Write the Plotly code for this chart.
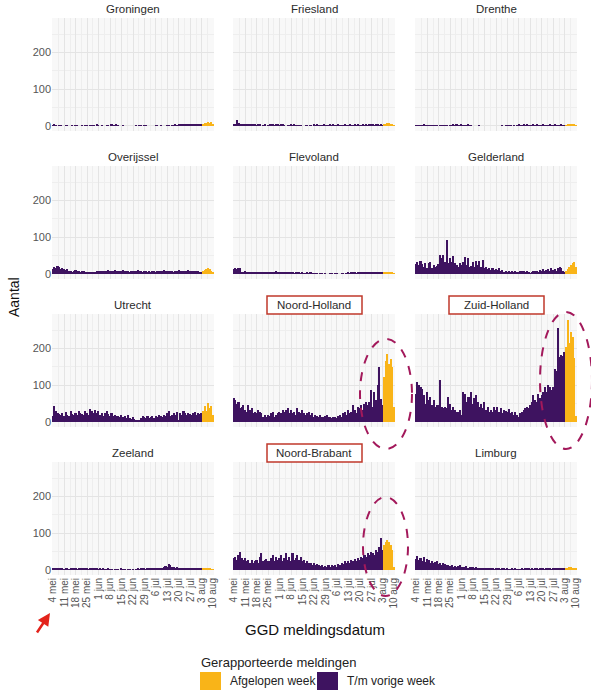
import pandas as pd
import plotly.graph_objects as go

# ---------------- data ----------------
dates = pd.date_range("2020-05-04", "2020-08-10", freq="D")
last_week_start = pd.Timestamp("2020-08-04")

provinces = ["Groningen", "Friesland", "Drenthe",
             "Overijssel", "Flevoland", "Gelderland",
             "Utrecht", "Noord-Holland", "Zuid-Holland",
             "Zeeland", "Noord-Brabant", "Limburg"]

groningen = [2,3,1,0,2,1,0,0,1,2, 0,0,1,0,2,1,0,0,1,0, 2,1,0,1,2,1,0,3,2,0,
             1,0,0,1,2,0,3,2,1,3, 2,0,0,1,0,0,0,0,0,0, 0,1,0,2,1,0,2,1,0,0,
             0,0,0,1,2,0,1,0,0,0, 1,2,0,1,2,3,2,4,3,4, 3,4,5,4,3,4,5,6,4,5,
             5,4, 6,8,9,10,9,11,5]
friesland = [5,6,15,7,6,5,5,4,4,3, 4,3,3,4,2,3,3,0,2,3, 0,2,4,3,3,2,3,4,2,3,
             3,2,0,1,2,3,2,3,2,2, 1,2,0,0,2,1,0,1,0,3, 2,3,2,1,2,3,2,2,1,3,
             2,3,2,2,3,2,1,2,3,2, 1,3,2,2,3,2,3,2,2,3, 2,3,2,3,4,3,2,3,3,2,
             3,2, 3,5,8,7,5,4,2]
drenthe = [2,1,2,2,1,3,2,1,2,1, 2,1,2,1,0,2,1,2,1,1, 0,1,2,3,2,3,1,2,3,2,
           1,2,3,2,1,0,0,0,0,1, 0,0,0,0,0,0,0,0,0,0, 0,0,0,1,0,2,1,2,1,0,
           1,0,2,3,2,1,3,2,3,2, 1,2,3,2,3,2,1,2,3,2, 1,2,3,2,1,3,2,1,2,3,
           2,1, 2,3,4,3,4,3,2]
overijssel = [14,20,15,22,18,12,15,13,10,12, 8,9,6,8,10,7,8,6,9,7, 5,4,6,3,5,4,6,8,7,9,
              8,7,9,8,10,9,8,7,10,8, 9,7,8,10,7,9,8,6,8,7, 9,8,10,7,8,6,9,7,6,8,
              5,7,9,6,8,7,9,8,10,9, 8,7,9,8,6,9,8,10,9,8, 7,9,8,10,9,7,8,9,7,8,
              6,5, 8,11,14,15,12,9,6]
flevoland = [13,15,14,16,15,6,5,7,5,6, 4,5,6,4,5,3,5,4,6,5, 4,5,3,4,6,5,7,4,5,3,
             4,5,6,4,3,5,4,2,3,4, 3,2,3,1,2,3,2,3,1,2, 1,2,0,1,2,0,1,0,0,2,
             1,0,2,1,0,0,1,2,0,2, 3,2,3,4,3,2,4,3,3,4, 3,5,4,3,4,5,4,6,5,4,
             5,4, 4,5,4,5,4,3,2]
gelderland = [27,31,24,36,27,20,29,15,29,31, 15,24,20,22,27,51,42,51,33,92,
              29,42,33,49,29,24,20,29,24,31, 45,24,42,20,22,33,20,36,24,36,
              20,38,15,18,13,15,11,15,11,13, 11,15,9,11,6,9,6,8,5,8,
              5,7,4,6,7,9,7,5,7,5, 2,6,9,7,9,6,11,8,13,9,
              10,12,8,15,11,13,9,15,20,15, 9,6,
              8,14,20,24,30,33,18]
utrecht = [15,43,30,25,22,20,25,15,26,20, 15,29,22,20,25,20,29,25,22,20,
           29,25,20,34,29,25,32,25,29,20, 25,17,23,29,22,17,23,15,20,15,
           17,14,20,14,15,11,20,11,8,14, 8,6,5,6,11,15,14,11,15,11,
           14,17,11,15,14,20,15,14,20,15, 25,29,15,20,25,20,26,3,25,20,
           29,25,20,25,22,18,24,28,20,24, 22,25,
           29,43,29,52,38,43,20]
noord_holland = [64,59,50,55,37,41,46,32,28,46, 32,37,23,28,23,32,28,23,14,19,
                 14,19,16,23,28,14,19,23,28,23, 32,28,32,37,23,32,23,28,19,37,
                 28,23,32,23,19,23,28,19,23,14, 19,16,14,19,14,13,16,19,14,13,
                 10,14,13,10,16,19,14,23,28,19, 32,23,28,46,32,23,41,37,46,32,
                 50,55,46,55,86,41,82,60,100,150,62,45,
                 122,167,185,158,172,150,41]
zuid_holland = [77,109,100,95,90,73,50,82,59,68, 46,59,41,46,46,113,41,37,41,37,
                68,50,32,41,32,28,28,32,19,82, 77,55,68,68,82,50,64,73,55,41,
                50,37,55,32,41,28,32,28,41,32, 41,28,37,23,32,30,28,35,23,28,19,28,
                19,14,23,28,32,37,41,37,46,55, 73,59,55,77,64,73,82,95,82,100,
                95,86,95,145,140,257,176,181,180,190,
                205,278,215,245,230,175,15]
zeeland = [5,6,4,3,5,4,3,2,4,3, 2,3,4,5,3,2,4,3,5,4, 3,4,2,3,4,5,3,4,2,3,
           2,3,1,2,3,2,1,0,2,1, 2,0,3,2,1,0,2,1,0,1, 0,2,3,2,3,4,3,2,3,4,
           3,5,4,6,5,4,6,5,8,10, 7,16,12,9,8,6,7,5,6,5, 4,5,6,5,4,3,5,4,6,5,
           4,3, 3,4,3,4,3,2,1]
noord_brabant = [32,36,27,41,50,32,27,32,23,27, 20,27,18,23,27,18,36,45,23,27,
                 30,25,23,32,41,23,36,27,32,41, 23,32,45,27,36,23,45,27,32,41,
                 27,36,23,27,18,23,18,20,14,18, 14,16,14,11,14,9,11,7,14,9,
                 14,11,14,9,16,14,18,15,23,18, 23,18,27,23,29,23,32,27,36,32,
                 41,36,45,41,50,45,41,54,50,63,86,54,
                 68,77,81,77,68,54,9]
limburg = [30,38,28,33,25,35,22,30,26,20, 24,18,22,25,16,20,14,18,15,12,
           14,10,12,9,11,8,10,12,7,9, 8,10,6,8,7,9,5,7,6,5,
           6,4,5,3,4,5,3,4,2,3, 4,3,2,4,3,2,3,2,1,3,
           2,3,2,1,2,3,2,3,4,3, 2,3,2,4,3,2,3,4,3,2,
           3,4,3,2,3,4,5,3,4,3, 4,3,
           4,6,7,8,6,5,3]

series = [groningen, friesland, drenthe, overijssel, flevoland, gelderland,
          utrecht, noord_holland, zuid_holland, zeeland, noord_brabant, limburg]

tick_dates = ["2020-05-04", "2020-05-11", "2020-05-18", "2020-05-25", "2020-06-01",
              "2020-06-08", "2020-06-15", "2020-06-22", "2020-06-29", "2020-07-06",
              "2020-07-13", "2020-07-20", "2020-07-27", "2020-08-03", "2020-08-10"]
tick_labels = ["4 mei", "11 mei", "18 mei", "25 mei", "1 jun", "8 jun", "15 jun",
               "22 jun", "29 jun", "6 jul", "13 jul", "20 jul", "27 jul", "3 aug", "10 aug"]
y_ticks = [0, 100, 200]

legend_title = "Gerapporteerde meldingen"
label_last = "Afgelopen week"
label_prev = "T/m vorige week"
highlighted = ["Noord-Holland", "Zuid-Holland", "Noord-Brabant"]

# ---------------- style ----------------
W, H = 591, 693
PURPLE = "#3E1360"
ORANGE = "#F9B418"
FONT = "Liberation Sans, Arial, sans-serif"
col_px = [(52, 214), (233, 395), (415, 577)]
row_px = [(18, 131), (166, 279), (314, 427), (462, 575)]

def px_x(p):
    return p / W

def px_y(p):
    return 1 - p / H

fig = go.Figure()
prev_mask = dates < last_week_start
last_mask = ~prev_mask
DAY_MS = 86400000

layout_axes = {}
annotations = []
shapes = []

for i, (name, vals) in enumerate(zip(provinces, series)):
    r, c = divmod(i, 3)
    k = i + 1
    xa = "x" if k == 1 else f"x{k}"
    ya = "y" if k == 1 else f"y{k}"
    v = pd.Series(vals, index=dates)
    fig.add_trace(go.Bar(x=dates[prev_mask], y=v[prev_mask].values, xaxis=xa, yaxis=ya,
                         marker=dict(color=PURPLE, line=dict(width=0)), width=DAY_MS,
                         name=label_prev, showlegend=False))
    fig.add_trace(go.Bar(x=dates[last_mask], y=v[last_mask].values, xaxis=xa, yaxis=ya,
                         marker=dict(color=ORANGE, line=dict(width=0)), width=DAY_MS,
                         name=label_last, showlegend=False))
    l, rr = col_px[c]
    t, b = row_px[r]
    xkey = "xaxis" if k == 1 else f"xaxis{k}"
    ykey = "yaxis" if k == 1 else f"yaxis{k}"
    layout_axes[xkey] = dict(
        domain=[px_x(l), px_x(rr)], anchor=ya, type="date", automargin=False,
        range=["2020-05-03 12:00", "2020-08-10 12:00"],
        tickmode="array", tickvals=tick_dates, ticktext=tick_labels,
        tickangle=-90, showticklabels=(r == 3), ticks="",
        tickfont=dict(size=10, color="#555555", family=FONT),
        showgrid=True, gridcolor="#E4E4E4", gridwidth=1,
        minor=dict(tick0="2020-05-04", dtick=DAY_MS * 3.5, showgrid=True,
                   gridcolor="#EEEEEE", gridwidth=1),
        zeroline=False, showline=False, fixedrange=True)
    layout_axes[ykey] = dict(
        domain=[px_y(b), px_y(t)], anchor=xa, range=[-14, 294], automargin=False,
        tickmode="array", tickvals=y_ticks, showticklabels=(c == 0), ticks="",
        tickfont=dict(size=11, color="#555555", family=FONT),
        showgrid=True, gridcolor="#E4E4E4", gridwidth=1,
        minor=dict(tick0=0, dtick=50, showgrid=True, gridcolor="#EEEEEE", gridwidth=1),
        zeroline=False, showline=False, fixedrange=True)
    annotations.append(dict(
        text=name, x=px_x((l + rr) / 2), y=px_y(t - 9), xref="paper", yref="paper",
        xanchor="center", yanchor="middle", showarrow=False,
        font=dict(size=11.5, color="#2B2B2B", family=FONT)))
    if name in highlighted:
        cx = (l + rr) / 2
        shapes.append(dict(type="rect", xref="paper", yref="paper",
                           x0=px_x(cx - 47), x1=px_x(cx + 48),
                           y0=px_y(t), y1=px_y(t - 18),
                           line=dict(color="#C0392B", width=1.5), layer="above"))

# dashed ellipses (annotation overlays)
ellipses = [(360, 412, 339, 449), (540, 592, 312, 449), (363, 408, 497, 596)]
for x0, x1, y0, y1 in ellipses:
    shapes.append(dict(type="circle", xref="paper", yref="paper",
                       x0=px_x(x0), x1=px_x(x1), y0=px_y(y1), y1=px_y(y0),
                       line=dict(color="#A3195B", width=2, dash="dash"), layer="above"))

# axis titles
annotations.append(dict(text="Aantal", x=px_x(14), y=px_y(297), xref="paper", yref="paper",
                        textangle=-90, showarrow=False, xanchor="center", yanchor="middle",
                        font=dict(size=14, color="#111111", family=FONT)))
annotations.append(dict(text="GGD meldingsdatum", x=px_x(315), y=px_y(629), xref="paper",
                        yref="paper", showarrow=False, xanchor="center", yanchor="middle",
                        font=dict(size=15, color="#111111", family=FONT)))

# red arrow
annotations.append(dict(text="", x=px_x(50), y=px_y(613), xref="paper", yref="paper",
                        ax=-14, ay=21, showarrow=True, arrowhead=2, arrowsize=1,
                        arrowwidth=2.5, arrowcolor="#E3231B"))

# legend (drawn)
annotations.append(dict(text=legend_title, x=px_x(199), y=px_y(662), xref="paper", yref="paper",
                        showarrow=False, xanchor="left", yanchor="middle",
                        font=dict(size=13, color="#222222", family=FONT)))
shapes.append(dict(type="rect", xref="paper", yref="paper", x0=px_x(200), x1=px_x(221),
                   y0=px_y(690), y1=px_y(672), fillcolor=ORANGE, line=dict(width=0)))
shapes.append(dict(type="rect", xref="paper", yref="paper", x0=px_x(317), x1=px_x(338),
                   y0=px_y(690), y1=px_y(672), fillcolor=PURPLE, line=dict(width=0)))
annotations.append(dict(text=label_last, x=px_x(228), y=px_y(681), xref="paper", yref="paper",
                        showarrow=False, xanchor="left", yanchor="middle",
                        font=dict(size=12, color="#222222", family=FONT)))
annotations.append(dict(text=label_prev, x=px_x(345), y=px_y(681), xref="paper", yref="paper",
                        showarrow=False, xanchor="left", yanchor="middle",
                        font=dict(size=12, color="#222222", family=FONT)))

fig.update_layout(
    width=W, height=H, margin=dict(l=0, r=0, t=0, b=0, autoexpand=False),
    paper_bgcolor="white", plot_bgcolor="#F8F8F8",
    barmode="overlay", bargap=0, showlegend=False,
    font=dict(family=FONT),
    annotations=annotations, shapes=shapes,
    **layout_axes)

fig.write_html("out.html", config={"displayModeBar": False},
               post_script="document.body.style.margin='0px';document.body.style.overflow='hidden';")
